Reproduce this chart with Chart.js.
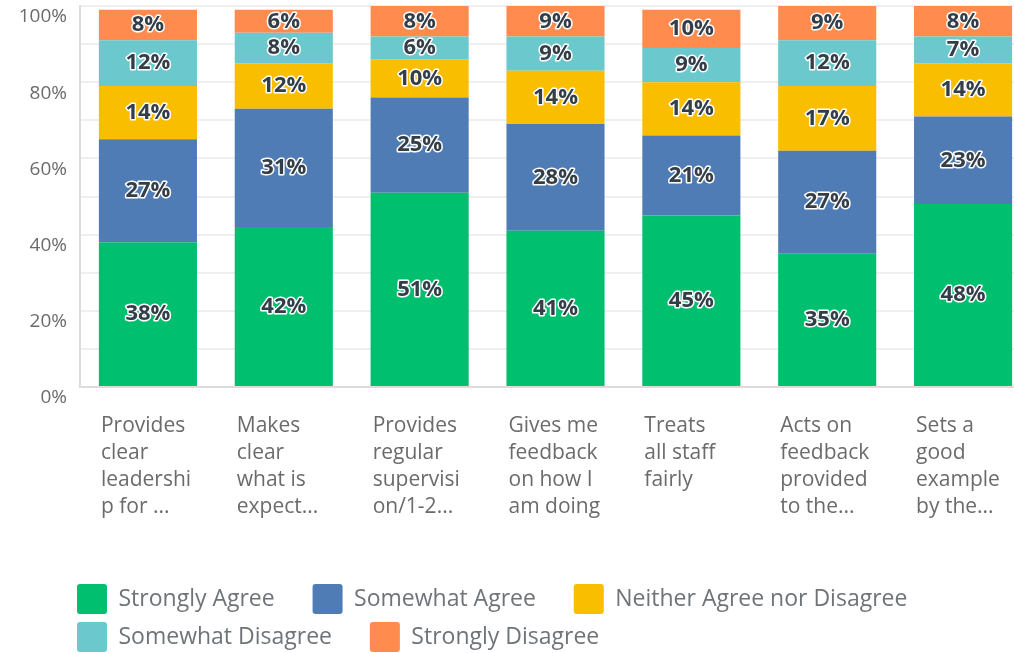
<!DOCTYPE html>
<html>
<head>
<meta charset="utf-8">
<script src="https://cdn.jsdelivr.net/npm/chart.js@4"></script>
<style>
  html, body { margin: 0; padding: 0; background: #fff; overflow: hidden; }
  canvas { display: block; }
</style>
</head>
<body>
<canvas id="myChart" width="1032" height="662"></canvas>
<script>
// survey answers, percent of respondents per statement
var categories = [
    ['Provides', 'clear', 'leadershi', 'p for ...'],
    ['Makes', 'clear', 'what is', 'expect...'],
    ['Provides', 'regular', 'supervisi', 'on/1-2...'],
    ['Gives me', 'feedback', 'on how I', 'am doing'],
    ['Treats', 'all staff', 'fairly'],
    ['Acts on', 'feedback', 'provided', 'to the...'],
    ['Sets a', 'good', 'example', 'by the...']
];
var seriesNames = ['Strongly Agree', 'Somewhat Agree', 'Neither Agree nor Disagree', 'Somewhat Disagree', 'Strongly Disagree'];
var stronglyAgree    = [38, 42, 51, 41, 45, 35, 48];
var somewhatAgree    = [27, 31, 25, 28, 21, 27, 23];
var neither          = [14, 12, 10, 14, 14, 17, 14];
var somewhatDisagree = [12, 8, 6, 9, 9, 12, 7];
var stronglyDisagree = [8, 6, 8, 9, 10, 9, 8];
var yTicks = [0, 20, 40, 60, 80, 100];

var colors = ['#00bf6f', '#507cb6', '#f9be00', '#6bc8cd', '#ff8b4f'];
var values = [stronglyAgree, somewhatAgree, neither, somewhatDisagree, stronglyDisagree];

var datasets = seriesNames.map(function (name, i) {
    return {
        label: name,
        data: values[i],
        backgroundColor: colors[i],
        borderWidth: 0,
        barPercentage: 0.722,
        categoryPercentage: 1
    };
});

// percent text in the middle of every segment, dark with a white halo
var barLabels = {
    id: 'barLabels',
    afterDatasetsDraw: function (chart) {
        var ctx = chart.ctx;
        ctx.save();
        ctx.font = 'bold 22px "Open Sans"';
        ctx.textAlign = 'center';
        ctx.textBaseline = 'middle';
        ctx.lineJoin = 'round';
        chart.data.datasets.forEach(function (ds, i) {
            chart.getDatasetMeta(i).data.forEach(function (bar, j) {
                var p = bar.getProps(['x', 'y', 'base'], true);
                var top = Math.max(p.y, chart.chartArea.top);
                var cy = (top + p.base) / 2;
                var txt = ds.data[j] + '%';
                ctx.lineWidth = 3;
                ctx.strokeStyle = '#ffffff';
                ctx.strokeText(txt, p.x, cy);
                ctx.fillStyle = '#333e48';
                ctx.fillText(txt, p.x, cy);
            });
        });
        ctx.restore();
    }
};

// start the legend rows under the axis
var legendShift = {
    id: 'legendShift',
    afterLayout: function (chart) {
        chart.legend.left = 69;
    }
};

var ctx = document.getElementById('myChart').getContext('2d');
var chart = new Chart(ctx, {
    type: 'bar',
    data: {
        labels: categories,
        datasets: datasets
    },
    plugins: [barLabels, legendShift],
    options: {
        responsive: false,
        animation: false,
        devicePixelRatio: 1,
        layout: { padding: { top: 6, right: 1, left: 0, bottom: 0 } },
        scales: {
            x: {
                stacked: true,
                grid: { display: false },
                border: { display: true, color: '#dcdcdc', width: 2 },
                ticks: {
                    autoSkip: false,
                    maxRotation: 0,
                    align: 'start',
                    labelOffset: -47,
                    padding: 17,
                    color: '#6b6b6b',
                    font: { family: '"Open Sans"', size: 21, lineHeight: 1.29 }
                },
                afterFit: function (scale) {
                    scale.height = 189;
                    scale.paddingLeft = 0;
                    scale.paddingRight = 0;
                }
            },
            y: {
                stacked: true,
                min: 0,
                max: 100,
                grid: { color: '#efefef', lineWidth: 2, drawTicks: false },
                border: { display: true, color: '#dcdcdc', width: 2 },
                ticks: {
                    stepSize: 10,
                    padding: 13,
                    labelOffset: 11,
                    color: '#6b6b6b',
                    font: { family: '"Open Sans"', size: 19 },
                    callback: function (v) {
                        return yTicks.indexOf(v) >= 0 ? v + '%' : '';
                    }
                },
                afterFit: function (scale) {
                    scale.width = 80;
                    scale.paddingTop = 0;
                    scale.paddingBottom = 0;
                }
            }
        },
        plugins: {
            legend: {
                position: 'bottom',
                align: 'start',
                labels: {
                    boxWidth: 30,
                    boxHeight: 30,
                    padding: 8,
                    useBorderRadius: true,
                    borderRadius: 3,
                    color: '#6f7479',
                    font: { family: '"Open Sans"', size: 23 },
                    generateLabels: function (chart) {
                        var items = Chart.defaults.plugins.legend.labels.generateLabels(chart);
                        items.forEach(function (it) { it.text = it.text + '     '; it.lineWidth = 0; });
                        return items;
                    }
                }
            },
            tooltip: { enabled: false }
        }
    }
});
</script>
</body>
</html>
